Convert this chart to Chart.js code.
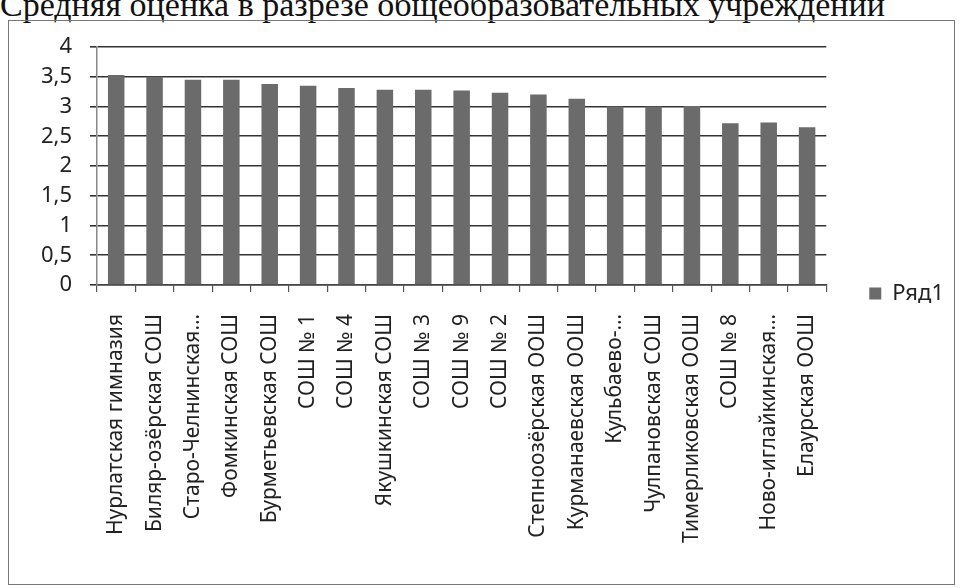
<!DOCTYPE html>
<html>
<head>
<meta charset="utf-8">
<script src="https://cdn.jsdelivr.net/npm/chart.js@4.4.1/dist/chart.umd.min.js"></script>
<style>
  html, body { margin: 0; padding: 0; background: #fff; }
  body { width: 964px; height: 588px; position: relative; overflow: hidden; }
  .title {
    position: absolute; left: 0; top: -12px; width: 1100px;
    font-family: "Liberation Serif", serif; font-size: 34px; line-height: 34px;
    color: #111; white-space: nowrap;
  }
  .box {
    position: absolute; left: 8px; top: 20px; width: 945px; height: 563px;
    border: 1px solid #777;
  }
  canvas { display: block; }
</style>
</head>
<body>
<div class="title">Средняя оценка в разрезе общеобразовательных учреждений</div>
<div class="box"><canvas id="chart" width="945" height="563"></canvas></div>
<script>
// school names (x axis), as truncated in the original
const schools = [
  'Нурлатская гимназия',
  'Биляр-озёрская СОШ',
  'Старо-Челнинская…',
  'Фомкинская СОШ',
  'Бурметьевская СОШ',
  'СОШ № 1',
  'СОШ № 4',
  'Якушкинская СОШ',
  'СОШ № 3',
  'СОШ № 9',
  'СОШ № 2',
  'Степноозёрская ООШ',
  'Курманаевская ООШ',
  'Кульбаево-…',
  'Чулпановская СОШ',
  'Тимерликовская ООШ',
  'СОШ № 8',
  'Ново-иглайкинская…',
  'Елаурская ООШ'
];

// average mark
const avgMark = [3.53, 3.50, 3.45, 3.45, 3.38, 3.35, 3.31, 3.28, 3.28, 3.27,
                 3.23, 3.20, 3.13, 3.00, 3.00, 3.01, 2.72, 2.73, 2.65];

const seriesName = 'Ряд1';
const yMin = 0, yMax = 4, yStep = 0.5;

const labelFont = { family: '"Noto Sans", sans-serif', size: 21 };
const tickFont = { family: '"Noto Sans", sans-serif', size: 22 };

// Excel puts the legend further right and a bit higher than Chart.js does
const legendNudge = {
  id: 'legendNudge',
  afterLayout(chart) {
    const lg = chart.legend;
    lg.left += 33; lg.right += 33;
    lg.top -= 22; lg.bottom -= 22;
  }
};

new Chart(document.getElementById('chart'), {
  type: 'bar',
  data: {
    labels: schools,
    datasets: [{
      label: seriesName,
      data: avgMark,
      backgroundColor: '#6b6b6b',
      borderWidth: 0,
      barPercentage: 0.43,
      categoryPercentage: 1
    }]
  },
  options: {
    responsive: false,
    animation: false,
    layout: { padding: { top: 26, right: 33, bottom: 0, left: 0 } },
    plugins: {
      tooltip: { enabled: false },
      legend: {
        position: 'right',
        labels: { boxWidth: 12, boxHeight: 12, font: tickFont, color: '#222', padding: 10 }
      }
    },
    scales: {
      x: {
        offset: true,
        grid: { offset: true, drawOnChartArea: false, drawTicks: true, tickLength: 7, color: '#555', lineWidth: 1.2 },
        border: { display: true, color: '#444', width: 1.5 },
        ticks: { autoSkip: false, minRotation: 90, maxRotation: 90, padding: 22, font: labelFont, color: '#222' },
        afterFit: (scale) => { scale.height = 299; }
      },
      y: {
        min: yMin,
        max: yMax,
        ticks: {
          stepSize: yStep,
          autoSkip: false,
          padding: 18,
          font: tickFont,
          color: '#222',
          callback: (v) => String(v).replace('.', ',')
        },
        grid: { color: '#333', lineWidth: 1.6, tickLength: 7 },
        border: { display: true, color: '#888', width: 1.5 },
        afterFit: (scale) => {
          scale.width = 88;
          scale.paddingTop = 10;
          scale.paddingBottom = 10;
        }
      }
    }
  },
  plugins: [legendNudge]
});
</script>
</body>
</html>
